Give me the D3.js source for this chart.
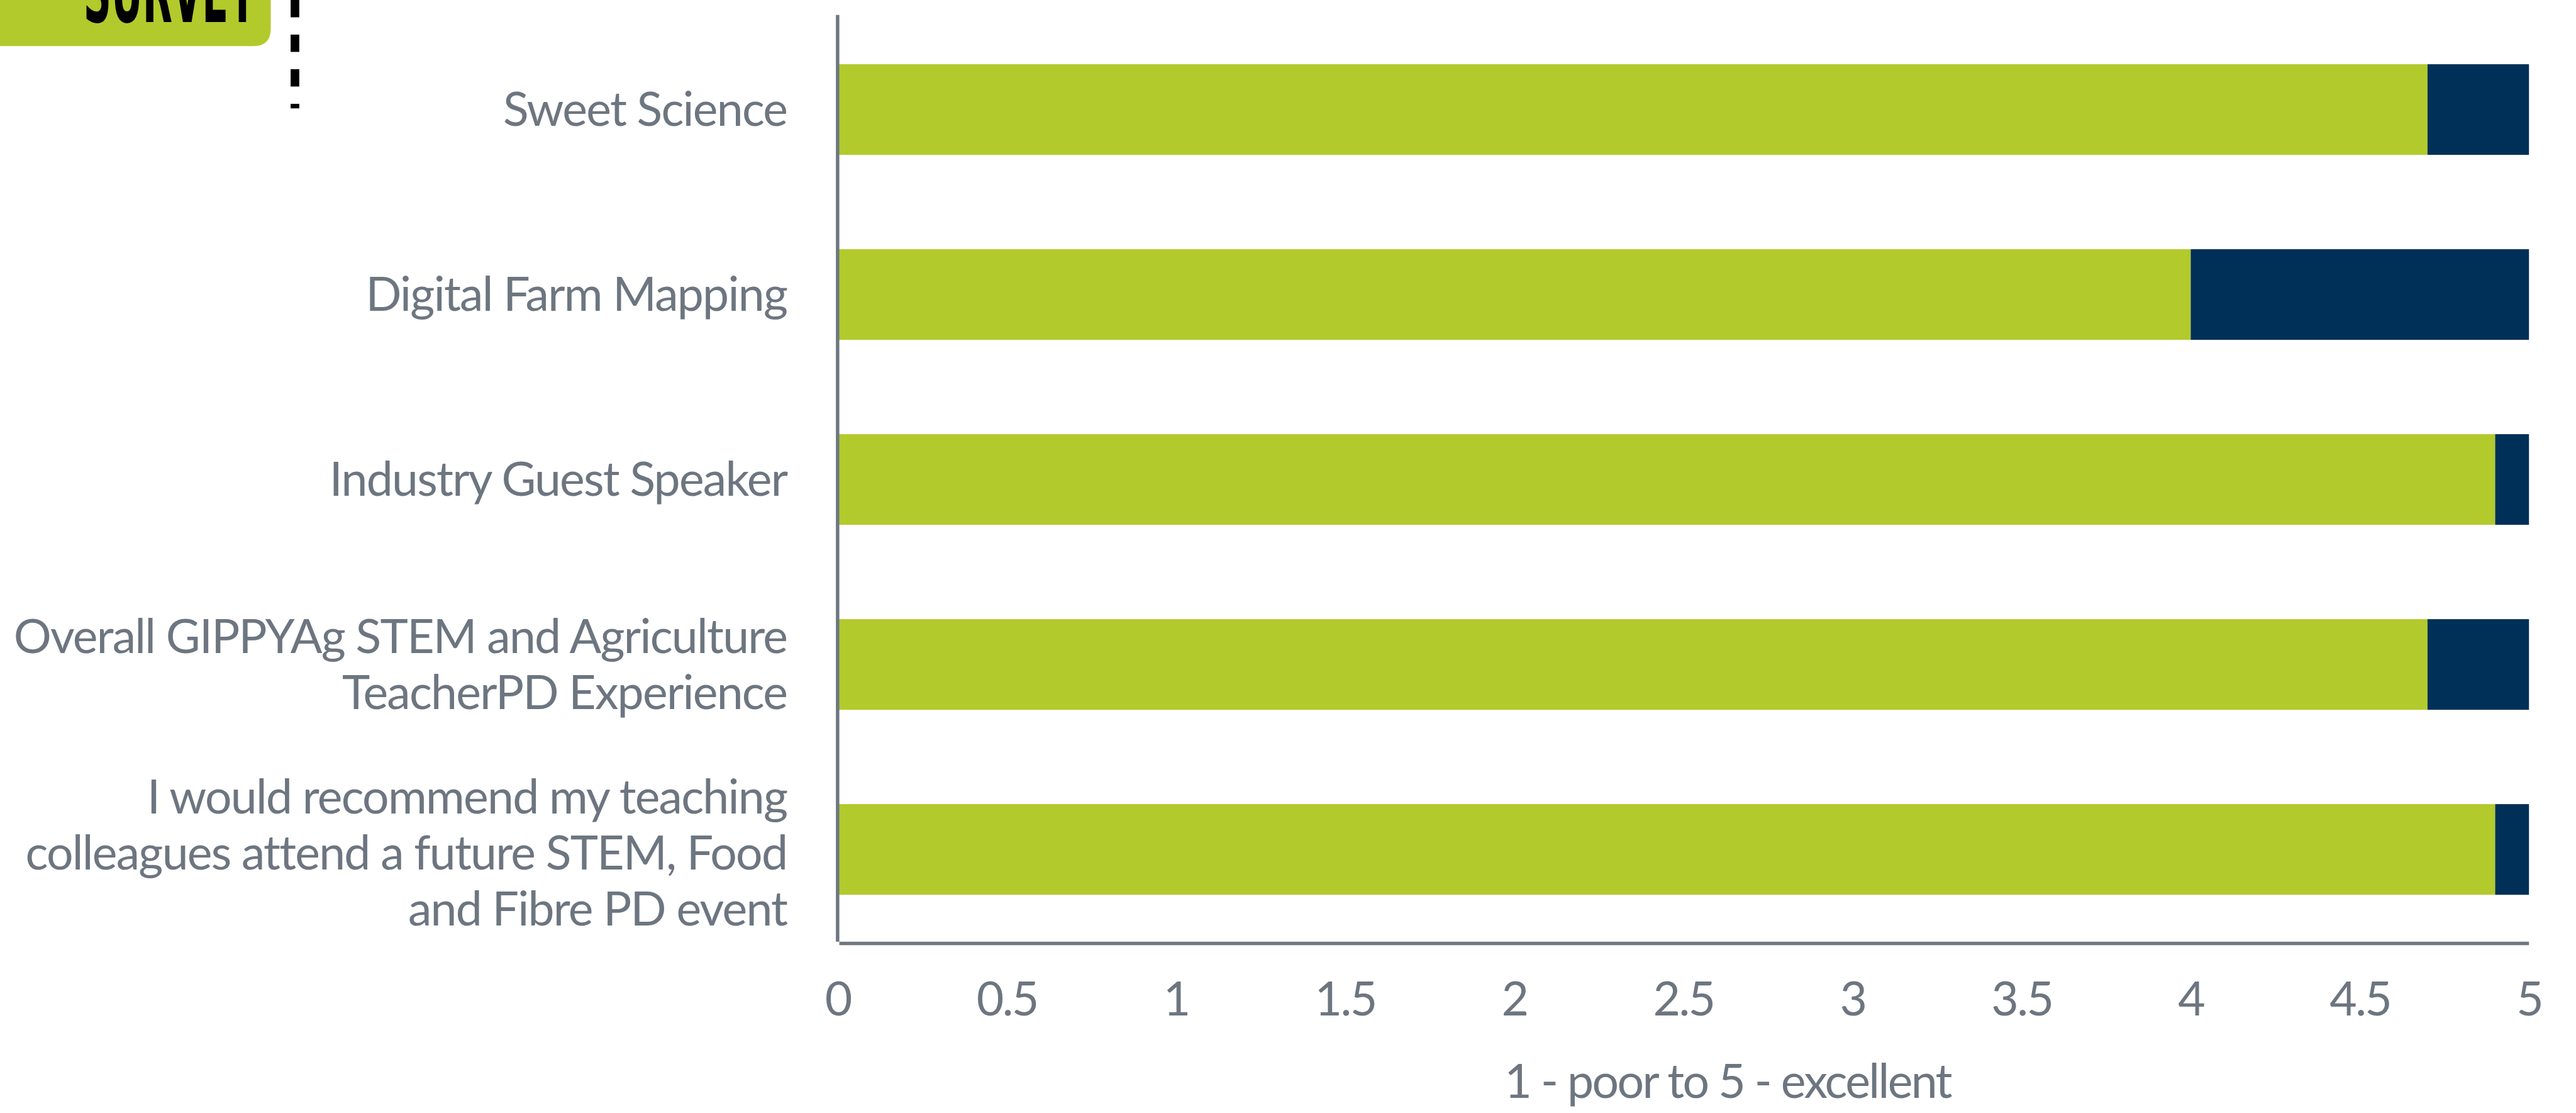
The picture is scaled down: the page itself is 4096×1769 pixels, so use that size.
<!DOCTYPE html>
<html>
<head>
<meta charset="utf-8">
<script src="https://cdn.jsdelivr.net/npm/d3@7"></script>
<style>
  html, body { margin: 0; padding: 0; background: #ffffff; }
  svg { display: block; }
</style>
</head>
<body>
<script>
// ---- data ----
const categories = [
  "Sweet Science",
  "Digital Farm Mapping",
  "Industry Guest Speaker",
  "Overall GIPPYAg STEM and Agriculture TeacherPD Experience",
  "I would recommend my teaching colleagues attend a future STEM, Food and Fibre PD event"
];
const categoryLines = [
  ["Sweet Science"],
  ["Digital Farm Mapping"],
  ["Industry Guest Speaker"],
  ["Overall GIPPYAg STEM and Agriculture", "TeacherPD Experience"],
  ["I would recommend my teaching", "colleagues attend a future STEM, Food", "and Fibre PD event"]
];
const scoreValues = [4.7, 4.0, 4.9, 4.7, 4.9];      // green
const remainderValues = [0.3, 1.0, 0.1, 0.3, 0.1];  // navy
const xTicks = [0, 0.5, 1, 1.5, 2, 2.5, 3, 3.5, 4, 4.5, 5];
const xTickLabels = ["0", "0.5", "1", "1.5", "2", "2.5", "3", "3.5", "4", "4.5", "5"];
const axisTitle = "1 - poor to 5 - excellent";
const tagText = "SURVEY";

// ---- layout (reference units, scaled by 0.916) ----
const S = 0.916;
const W = 4096, H = 1769;
const GREEN = "#b2ca2c", NAVY = "#003057", GREY = "#6d7680", AXIS = "#6f7780";
const FONT = "Lato, 'Noto Sans', sans-serif";
const FS = 82, LS = -2.8, LS_LABEL = -1.9;

const svg = d3.select("body").append("svg").attr("width", W).attr("height", H);
const g = svg.append("g").attr("transform", `scale(${S})`);

const x = d3.scaleLinear().domain([0, 5]).range([1454, 4390]);
const y = d3.scaleBand().domain(categories).range([28, 1636]).paddingInner(0.51).paddingOuter(0.26);

// stacked data
const stackData = categories.map((c, i) => ({ cat: c, score: scoreValues[i], rest: remainderValues[i] }));
const series = d3.stack().keys(["score", "rest"])(stackData);
const colors = { score: GREEN, rest: NAVY };

g.append("g").selectAll("g").data(series).join("g")
  .attr("fill", d => colors[d.key])
  .selectAll("rect").data(d => d).join("rect")
  .attr("x", d => x(d[0]))
  .attr("width", d => x(d[1]) - x(d[0]))
  .attr("y", d => y(d.data.cat))
  .attr("height", y.bandwidth());

// axes lines
g.append("line").attr("x1", 1454).attr("x2", 1454).attr("y1", 26).attr("y2", 1634)
  .attr("stroke", AXIS).attr("stroke-width", 6);
g.append("line").attr("x1", 1457).attr("x2", x(5)).attr("y1", 1637).attr("y2", 1637)
  .attr("stroke", AXIS).attr("stroke-width", 6);

// x tick labels via axis
const xAxis = d3.axisBottom(x).tickValues(xTicks).tickSize(0).tickPadding(0)
  .tickFormat((d, i) => xTickLabels[i]);
const xg = g.append("g").attr("transform", "translate(0,1733)").call(xAxis);
xg.select(".domain").remove();
xg.selectAll("text").attr("fill", GREY).attr("font-family", FONT).attr("font-size", FS)
  .attr("letter-spacing", LS).attr("dy", "0.35em").attr("y", 0);

// category labels
const lineH = 97;
const lab = g.append("g");
categories.forEach((c, i) => {
  const lines = categoryLines[i];
  const cy = y(c) + y.bandwidth() / 2 + (lines.length > 2 ? 6 : 0);
  const t = lab.append("text").attr("text-anchor", "end").attr("fill", GREY)
    .attr("font-family", FONT).attr("font-size", FS).attr("letter-spacing", LS_LABEL);
  lines.forEach((ln, j) => {
    t.append("tspan").attr("x", 1366)
      .attr("y", cy + (j - (lines.length - 1) / 2) * lineH)
      .attr("dy", "0.35em").text(ln);
  });
});

// axis title
g.append("text").attr("x", 2999).attr("y", 1876).attr("dy", "0.35em")
  .attr("text-anchor", "middle").attr("fill", GREY)
  .attr("font-family", FONT).attr("font-size", FS).attr("letter-spacing", LS).text(axisTitle);

// SURVEY tag (top-left, clipped)
g.append("path")
  .attr("d", "M0,-10 L470,-10 L470,50 Q470,80 440,80 L0,80 Z")
  .attr("fill", GREEN);
g.append("text").attr("x", 145).attr("y", 38)
  .attr("textLength", 300).attr("lengthAdjust", "spacingAndGlyphs")
  .attr("font-family", "'DejaVu Sans', sans-serif").attr("font-weight", "bold")
  .attr("font-size", 150).attr("fill", "#000").text(tagText);
g.append("line").attr("x1", 512).attr("x2", 512).attr("y1", 0).attr("y2", 188)
  .attr("stroke", "#000").attr("stroke-width", 15).attr("stroke-dasharray", "30,30");
</script>
</body>
</html>
